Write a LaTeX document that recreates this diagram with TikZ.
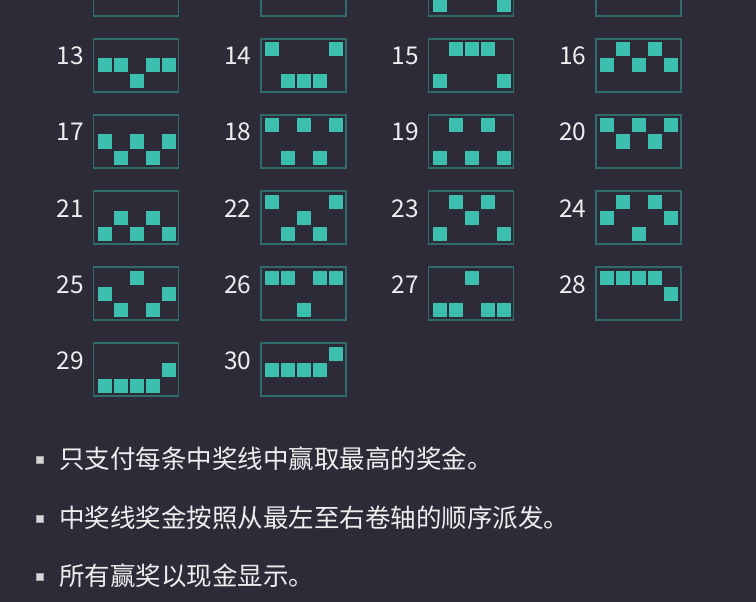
\documentclass[tikz,border=0pt]{standalone}
\usepackage{fontspec}
\setmainfont{Noto Sans CJK SC}
\definecolor{bg}{HTML}{2C2B37}
\definecolor{cell}{HTML}{3DBFB0}
\definecolor{frame}{HTML}{2F6B6A}
\definecolor{txt}{HTML}{EEEEEE}
\definecolor{bul}{HTML}{D6D6D6}
\tikzset{
  boxframe/.style={draw=frame, line width=1.3pt, minimum width=85pt, minimum height=53pt, inner sep=0pt, outer sep=0pt, anchor=north west},
  numlbl/.style={text=txt, font=\fontsize{24.5}{28}\selectfont, inner sep=0pt, anchor=base west},
  cnline/.style={text=txt, font=\fontsize{25.5}{30}\selectfont, inner sep=0pt, anchor=base west},
  bulletsq/.style={fill=bul, draw=bul!70!bg, line width=0.5pt, minimum size=7pt, inner sep=0pt}
}
\newcommand\paybox[4]{%
  \node[boxframe] (b#1) at (#2,#3) {};
  \foreach \c/\r in {#4} {
    \fill[cell] (#2+4+16*\c-16, #3+3.5+16*\r-16) rectangle ++(14,14);
  }
}
\newcommand\paylabel[3]{%
  \node[numlbl] (n#1) at (#2-37,#3+26) {#1};
}
\begin{document}
\begin{tikzpicture}[x=1pt,y=-1pt]
\fill[bg] (0,0) rectangle (756,602);
\useasboundingbox (0,0) rectangle (756,602);
\clip (0,0) rectangle (756,602);
% partial top row (9-12)
\paybox{9}{93.5}{-37}{}
\paybox{10}{261}{-37}{}
\paybox{11}{428.5}{-37}{1/3,5/3}
\paybox{12}{596}{-37}{}
% row 13-16
\paybox{13}{93.5}{39}{1/2,2/2,4/2,5/2,3/3}\paylabel{13}{93.5}{39}
\paybox{14}{261}{39}{1/1,5/1,2/3,3/3,4/3}\paylabel{14}{261}{39}
\paybox{15}{428.5}{39}{2/1,3/1,4/1,1/3,5/3}\paylabel{15}{428.5}{39}
\paybox{16}{596}{39}{2/1,4/1,1/2,3/2,5/2}\paylabel{16}{596}{39}
% row 17-20
\paybox{17}{93.5}{115}{1/2,3/2,5/2,2/3,4/3}\paylabel{17}{93.5}{115}
\paybox{18}{261}{115}{1/1,3/1,5/1,2/3,4/3}\paylabel{18}{261}{115}
\paybox{19}{428.5}{115}{2/1,4/1,1/3,3/3,5/3}\paylabel{19}{428.5}{115}
\paybox{20}{596}{115}{1/1,3/1,5/1,2/2,4/2}\paylabel{20}{596}{115}
% row 21-24
\paybox{21}{93.5}{191}{2/2,4/2,1/3,3/3,5/3}\paylabel{21}{93.5}{191}
\paybox{22}{261}{191}{1/1,5/1,3/2,2/3,4/3}\paylabel{22}{261}{191}
\paybox{23}{428.5}{191}{2/1,4/1,3/2,1/3,5/3}\paylabel{23}{428.5}{191}
\paybox{24}{596}{191}{2/1,4/1,1/2,5/2,3/3}\paylabel{24}{596}{191}
% row 25-28
\paybox{25}{93.5}{267}{3/1,1/2,5/2,2/3,4/3}\paylabel{25}{93.5}{267}
\paybox{26}{261}{267}{1/1,2/1,4/1,5/1,3/3}\paylabel{26}{261}{267}
\paybox{27}{428.5}{267}{3/1,1/3,2/3,4/3,5/3}\paylabel{27}{428.5}{267}
\paybox{28}{596}{267}{1/1,2/1,3/1,4/1,5/2}\paylabel{28}{596}{267}
% row 29-30
\paybox{29}{93.5}{343}{5/2,1/3,2/3,3/3,4/3}\paylabel{29}{93.5}{343}
\paybox{30}{261}{343}{5/1,1/2,2/2,3/2,4/2}\paylabel{30}{261}{343}
% notes
\node[bulletsq] (s1) at (40,460) {};
\node[bulletsq] (s2) at (40,518.5) {};
\node[bulletsq] (s3) at (40,577) {};
\node[cnline] (t1) at (59,468.5) {只支付每条中奖线中赢取最高的奖金。};
\node[cnline] (t2) at (59,527) {中奖线奖金按照从最左至右卷轴的顺序派发。};
\node[cnline] (t3) at (59,585.5) {所有赢奖以现金显示。};
\end{tikzpicture}
\end{document}
